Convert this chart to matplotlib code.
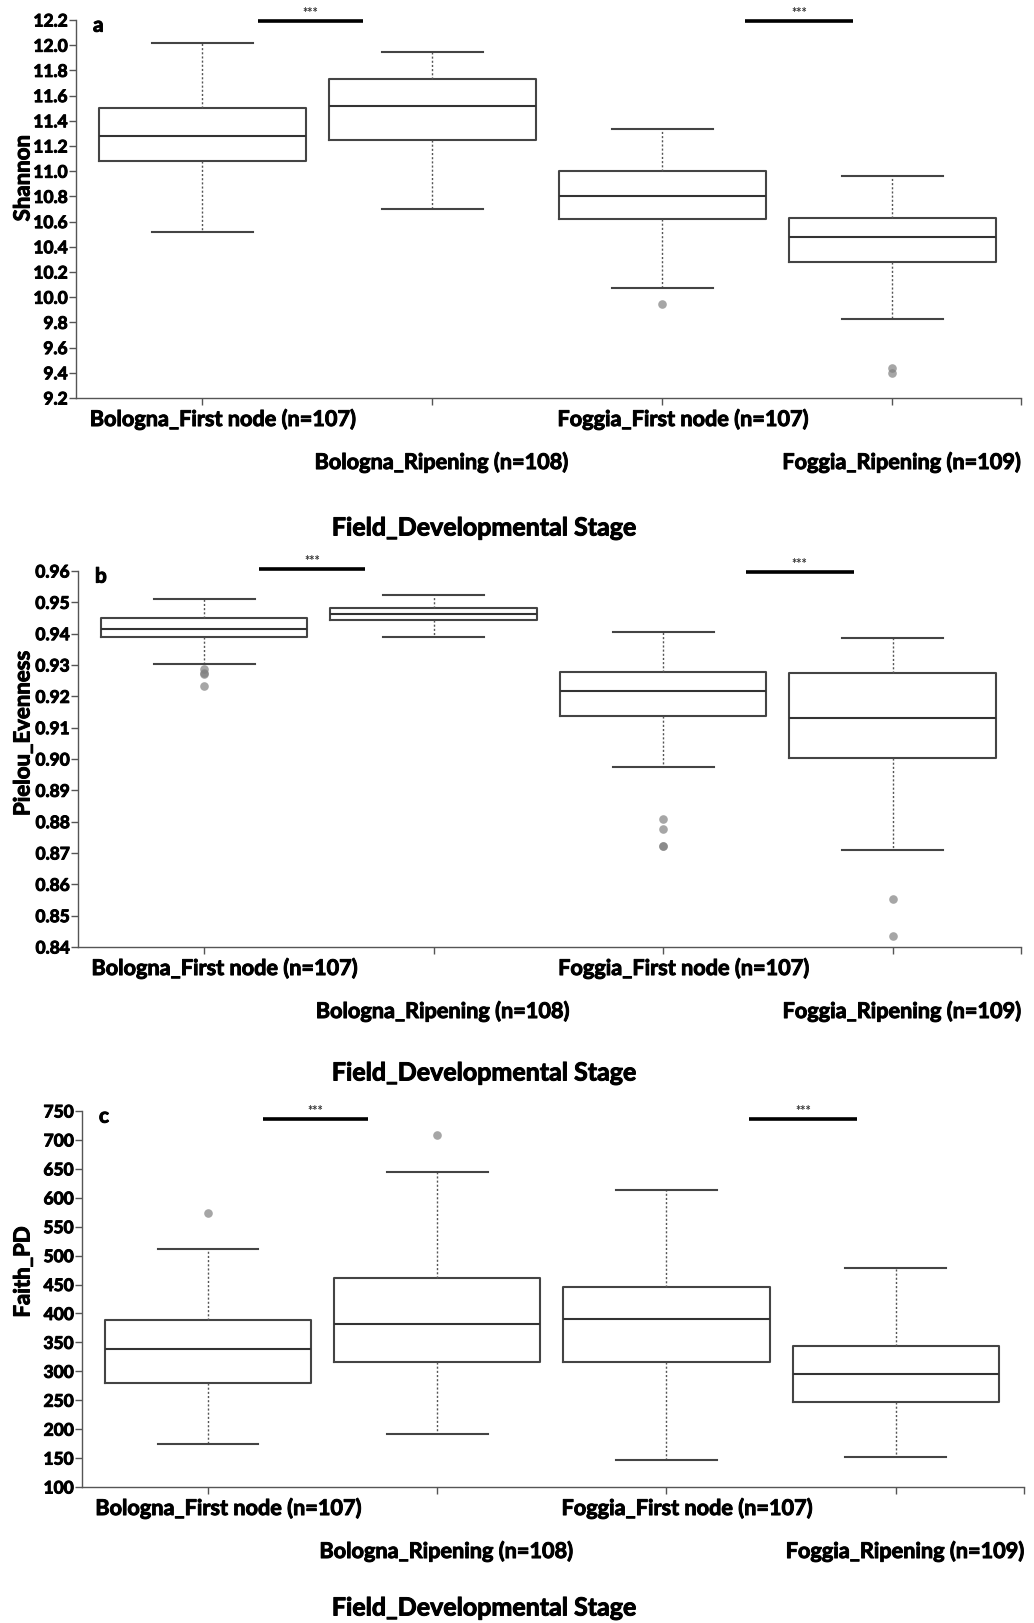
import numpy as np
import matplotlib
matplotlib.use("Agg")
import matplotlib.pyplot as plt
import matplotlib.patheffects as pe
from matplotlib.transforms import blended_transform_factory

plt.rcParams['font.family'] = ['Lato', 'DejaVu Sans']
plt.rcParams['font.weight'] = 'bold'

# ---- data
groups = ["Bologna_First node (n=107)", "Bologna_Ripening (n=108)",
          "Foggia_First node (n=107)", "Foggia_Ripening (n=109)"]

shannon_q1 = [11.08, 11.25, 10.62, 10.28]
shannon_med = [11.28, 11.52, 10.80, 10.475]
shannon_q3 = [11.50, 11.73, 11.00, 10.63]
shannon_lo = [10.52, 10.70, 10.07, 9.83]
shannon_hi = [12.02, 11.95, 11.335, 10.96]
shannon_out = [[], [], [9.95], [9.44, 9.40]]

pielou_q1 = [0.9388, 0.9443, 0.9137, 0.9002]
pielou_med = [0.9415, 0.9462, 0.9217, 0.9130]
pielou_q3 = [0.9450, 0.9481, 0.9278, 0.9273]
pielou_lo = [0.9303, 0.9388, 0.8975, 0.8708]
pielou_hi = [0.9512, 0.9522, 0.9405, 0.9387]
pielou_out = [[0.9286, 0.9275, 0.9271, 0.9234], [],
              [0.8807, 0.8778, 0.8723, 0.8721], [0.8553, 0.8434]]

faith_q1 = [279, 316.5, 316, 247]
faith_med = [338, 381, 390, 295]
faith_q3 = [388.5, 461, 445, 344]
faith_lo = [175, 191, 147, 151]
faith_hi = [512, 644.7, 614, 479]
faith_out = [[573], [708], [], []]

# significance bars: (x start, x end, y)
shannon_sig = [(0.24, 0.70, 12.19), (2.36, 2.83, 12.19)]
pielou_sig = [(0.24, 0.70, 0.9606), (2.36, 2.83, 0.9597)]
faith_sig = [(0.24, 0.70, 736), (2.36, 2.83, 736)]

W, H = 1034, 1623
fig = plt.figure(figsize=(W / 100, H / 100), dpi=100)

# thicken the glyphs a little, the original font is heavier than Lato Bold
heavy = [pe.withStroke(linewidth=0.7, foreground='black')]


def rect(l, t, r, b):
    return [l / W, 1 - b / H, (r - l) / W, (b - t) / H]


def draw_panel(box, q1, med, q3, lo, hi, outs, sig, yticks, fmt, letter,
               ylabel, ylab_y, title_off):
    ax = fig.add_axes(rect(*box))
    stats = []
    for i in range(len(groups)):
        stats.append(dict(q1=q1[i], med=med[i], q3=q3[i], whislo=lo[i],
                          whishi=hi[i], fliers=outs[i]))
    pos = np.arange(len(groups))
    ax.bxp(stats, positions=pos, widths=0.9, capwidths=0.44,
           showfliers=True, patch_artist=False,
           boxprops=dict(color='#444444', linewidth=1.5),
           medianprops=dict(color='#333333', linewidth=1.5),
           whiskerprops=dict(color='#555555', linewidth=1.0, linestyle=(0, (1.5, 1.5))),
           capprops=dict(color='#444444', linewidth=1.5),
           flierprops=dict(marker='o', markersize=6.2, markerfacecolor='#808080',
                           markeredgecolor='none', alpha=0.7))
    ax.set_xlim(-0.55, 3.56)
    ax.set_ylim(yticks[0], yticks[-1])
    ax.set_yticks(yticks)
    ax.set_yticklabels([fmt.format(v) for v in yticks])
    ax.set_xticks(pos)
    ax.set_xticklabels([])
    ax.set_xticks([3.56], minor=True)
    for s in ['top', 'right']:
        ax.spines[s].set_visible(False)
    for s in ['left', 'bottom']:
        ax.spines[s].set_color('#555555')
        ax.spines[s].set_linewidth(1.0)
    ax.tick_params(axis='both', which='both', length=5, color='#555555',
                   width=1.0)
    ax.tick_params(axis='y', labelsize=12.5, pad=1)
    for t in ax.get_yticklabels():
        t.set_fontweight('bold')
        t.set_path_effects(heavy)

    # staggered category labels
    ax_h = box[3] - box[1]
    tr = blended_transform_factory(ax.transData, ax.transAxes)
    for i, g in enumerate(groups):
        off = 21 if i % 2 == 0 else 64
        shift = 0.09 if i % 2 == 0 else 0.04
        ax.text(i + shift, -off / ax_h, g, transform=tr, ha='center',
                va='center', fontsize=15.6, fontweight='bold',
                path_effects=heavy)
    fig.text(484 / W, 1 - (box[3] + title_off) / H,
             "Field_Developmental Stage", ha='center', va='center',
             fontsize=18, fontweight='bold', path_effects=heavy)
    fig.text(23 / W, 1 - ylab_y / H, ylabel, rotation=90, ha='center',
             va='center', fontsize=16, fontweight='bold', path_effects=heavy)

    ax.text(0.018, 0.985, letter, transform=ax.transAxes, ha='left',
            va='center', fontsize=15, fontweight='bold', path_effects=heavy)

    for x0, x1, y in sig:
        ax.plot([x0, x1], [y, y], color='black', linewidth=2.6,
                solid_capstyle='butt', clip_on=False)
        ax.annotate("***", xy=((x0 + x1) / 2, y), xytext=(0, 1.5),
                    textcoords='offset points', ha='center', va='bottom',
                    fontsize=9, color='#333333', annotation_clip=False)
    return ax


draw_panel((76, 20, 1021, 398), shannon_q1, shannon_med, shannon_q3,
           shannon_lo, shannon_hi, shannon_out, shannon_sig,
           np.round(np.arange(9.2, 12.21, 0.2), 1), "{:.1f}", "a",
           "Shannon", 178, 130)
draw_panel((78, 571, 1021, 947), pielou_q1, pielou_med, pielou_q3,
           pielou_lo, pielou_hi, pielou_out, pielou_sig,
           np.round(np.arange(0.84, 0.9601, 0.01), 2), "{:.2f}", "b",
           "Pielou_Evenness", 733, 126)
draw_panel((82, 1111, 1024, 1487), faith_q1, faith_med, faith_q3,
           faith_lo, faith_hi, faith_out, faith_sig,
           np.arange(100, 751, 50), "{:d}", "c",
           "Faith_PD", 1272, 121)

fig.savefig("out.png", dpi=100, facecolor='white')
